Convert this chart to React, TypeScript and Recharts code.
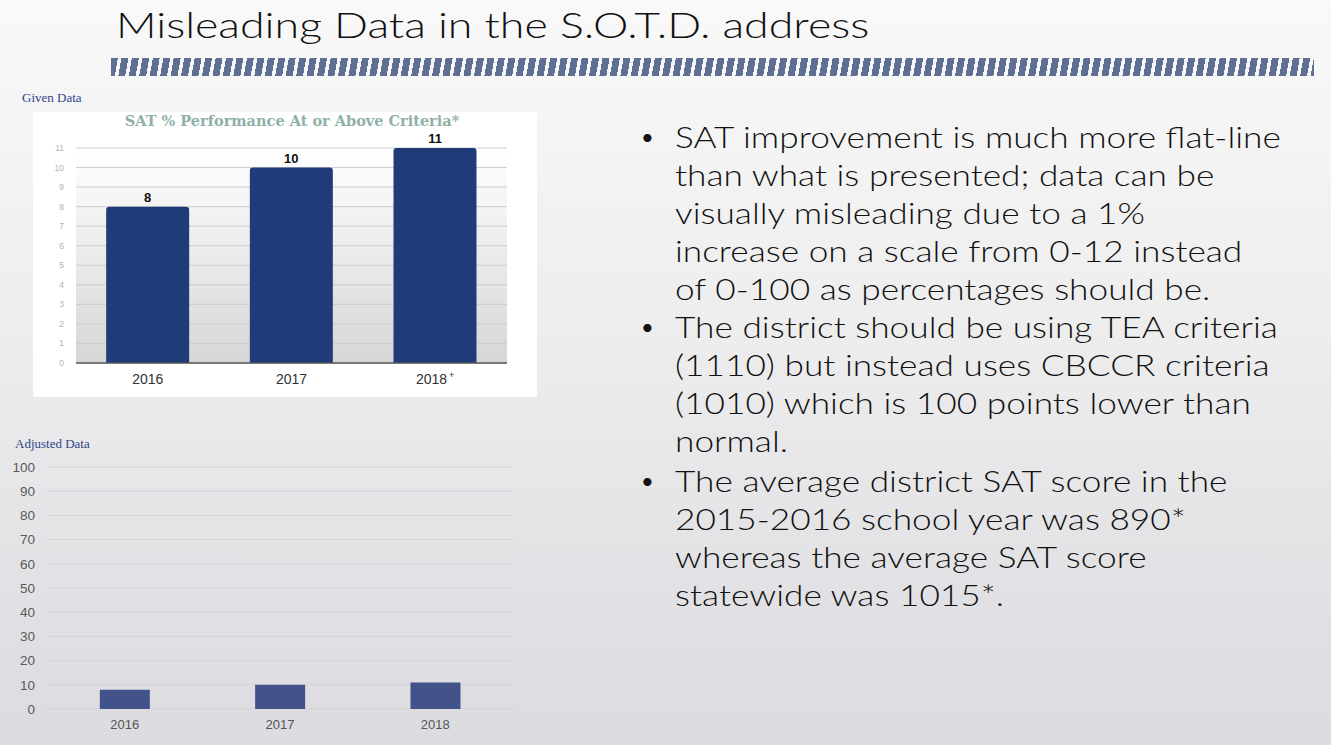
import { BarChart, Bar, XAxis, YAxis, CartesianGrid, LabelList } from "recharts";

// given chart (as published)
const givenYears = ["2016", "2017", "2018+"];
const givenValues = [8, 10, 11];
const givenTicks = [0, 1, 2, 3, 4, 5, 6, 7, 8, 9, 10, 11];

// adjusted chart (0-100 scale)
const adjustedYears = ["2016", "2017", "2018"];
const adjustedValues = [8, 10, 11];
const adjustedTicks = [0, 10, 20, 30, 40, 50, 60, 70, 80, 90, 100];

const bullets = [
  [
    "SAT improvement is much more flat-line",
    "than what is presented; data can be",
    "visually misleading due to a 1%",
    "increase on a scale from 0-12 instead",
    "of 0-100 as percentages should be.",
  ],
  [
    "The district should be using TEA criteria",
    "(1110) but instead uses CBCCR criteria",
    "(1010) which is 100 points lower than",
    "normal.",
  ],
  [
    "The average district SAT score in the",
    "2015-2016 school year was 890*",
    "whereas the average SAT score",
    "statewide was 1015*.",
  ],
];

const givenData = givenYears.map((year, i) => ({ year, value: givenValues[i] }));
const adjustedData = adjustedYears.map((year, i) => ({ year, value: adjustedValues[i] }));

const SANS = "'Liberation Sans', Arial, sans-serif";
const THIN = "Lato, 'Open Sans', sans-serif";

function YearTick({ x, y, payload }: any) {
  const v: string = payload.value;
  const plus = v.endsWith("+");
  const base = plus ? v.slice(0, -1) : v;
  return (
    <text x={x} y={y} dy={11} textAnchor="middle" fill="#333" fontSize={14} fontFamily={SANS}>
      {base}
      {plus && (
        <tspan dx={2} dy={-6} fontSize={9}>
          +
        </tspan>
      )}
    </text>
  );
}

function GivenChart() {
  return (
    <div style={{ position: "absolute", left: 33, top: 112, width: 504, height: 285, background: "#fff" }}>
      <div
        style={{
          position: "absolute",
          left: 0,
          width: 518,
          top: 0,
          textAlign: "center",
          fontFamily: "'DejaVu Serif', 'Liberation Serif', serif",
          fontWeight: "bold",
          fontSize: 14.5,
          color: "#8fb0a8",
        }}
      >
        SAT % Performance At or Above Criteria*
      </div>
      <BarChart
        width={504}
        height={285}
        data={givenData}
        margin={{ top: 36, right: 30, bottom: 0, left: 0 }}
        barCategoryGap="21%"
      >
        <defs>
          <linearGradient id="givenBg" x1="0" y1="0" x2="0" y2="1">
            <stop offset="0%" stopColor="#ffffff" />
            <stop offset="100%" stopColor="#d6d6d6" />
          </linearGradient>
        </defs>
        <CartesianGrid vertical={false} stroke="#cdcdcd" fill="url(#givenBg)" fillOpacity={1} />
        <XAxis
          dataKey="year"
          tick={<YearTick />}
          tickLine={false}
          axisLine={{ stroke: "#555", strokeWidth: 1.5 }}
          height={34}
          tickMargin={4}
        />
        <YAxis
          domain={[0, 11]}
          ticks={givenTicks}
          interval={0}
          width={43}
          tickLine={false}
          axisLine={false}
          tickSize={0}
          tickMargin={12}
          tick={{ fill: "#b3b3b3", fontSize: 8.5, fontFamily: SANS }}
        />
        <Bar dataKey="value" fill="#1f3c78" radius={[3, 3, 0, 0]} isAnimationActive={false}>
          <LabelList
            dataKey="value"
            position="top"
            offset={5}
            fill="#111"
            fontSize={13}
            fontWeight="bold"
            fontFamily={SANS}
          />
        </Bar>
      </BarChart>
    </div>
  );
}

function AdjustedChart() {
  return (
    <div style={{ position: "absolute", left: 0, top: 450, width: 550, height: 295 }}>
      <BarChart
        width={550}
        height={295}
        data={adjustedData}
        margin={{ top: 17, right: 37, bottom: 0, left: 0 }}
        barCategoryGap="34%"
      >
        <CartesianGrid vertical={false} stroke="#d3d3d7" />
        <XAxis
          dataKey="year"
          tickLine={false}
          axisLine={false}
          height={36}
          tickMargin={5}
          tick={{ fill: "#555", fontSize: 13, fontFamily: SANS }}
        />
        <YAxis
          domain={[0, 100]}
          ticks={adjustedTicks}
          interval={0}
          width={47}
          tickLine={false}
          axisLine={false}
          tickSize={0}
          tickMargin={12}
          tick={{ fill: "#595959", fontSize: 13.5, fontFamily: SANS }}
        />
        <Bar dataKey="value" fill="#42528a" isAnimationActive={false} />
      </BarChart>
    </div>
  );
}

export default function App() {
  let lineNo = 0;
  return (
    <div
      style={{
        position: "absolute",
        left: 0,
        top: 0,
        width: 1331,
        height: 745,
        overflow: "hidden",
        background: "linear-gradient(180deg, #f9f9f9 0%, #ededee 45%, #dbdbe0 100%)",
      }}
    >
      <div
        style={{
          position: "absolute",
          left: 116,
          top: 7,
          fontFamily: THIN,
          fontWeight: 300,
          fontSize: 35,
          lineHeight: "35px",
          color: "#111",
          whiteSpace: "nowrap",
          transform: "scaleX(1.277)",
          transformOrigin: "0 0",
        }}
      >
        Misleading Data in the S.O.T.D. address
      </div>

      {/* striped rule under the title */}
      <div
        style={{
          position: "absolute",
          left: 111,
          top: 58,
          width: 1203,
          height: 18,
          background:
            "repeating-linear-gradient(100deg, #5f6e93 0px, #5f6e93 6.8px, transparent 6.8px, transparent 10.3px)",
        }}
      />

      <div style={{ position: "absolute", left: 22, top: 90, fontFamily: "'Liberation Serif', serif", fontSize: 13, color: "#2f4488" }}>
        Given Data
      </div>
      <div style={{ position: "absolute", left: 15, top: 436, fontFamily: "'Liberation Serif', serif", fontSize: 13, color: "#2f4488" }}>
        Adjusted Data
      </div>

      <GivenChart />
      <AdjustedChart />

      {bullets.map((lines, b) => (
        <div key={b}>
          {lines.map((line, i) => {
            const top = 118 + lineNo * 38 + (b === 2 ? 2 : 0);
            lineNo++;
            return (
              <div key={i}>
                {i === 0 && (
                  <span
                    style={{
                      position: "absolute",
                      left: 641,
                      top,
                      lineHeight: "38px",
                      fontFamily: THIN,
                      fontSize: 22,
                      color: "#111",
                    }}
                  >
                    •
                  </span>
                )}
                <div
                  style={{
                    position: "absolute",
                    left: 675,
                    top,
                    height: 38,
                    lineHeight: "38px",
                    fontFamily: THIN,
                    fontWeight: 300,
                    fontSize: 29,
                    color: "#111",
                    whiteSpace: "nowrap",
                    transform: "scaleX(1.215)",
                    transformOrigin: "0 0",
                  }}
                >
                  {line}
                </div>
              </div>
            );
          })}
        </div>
      ))}
    </div>
  );
}
